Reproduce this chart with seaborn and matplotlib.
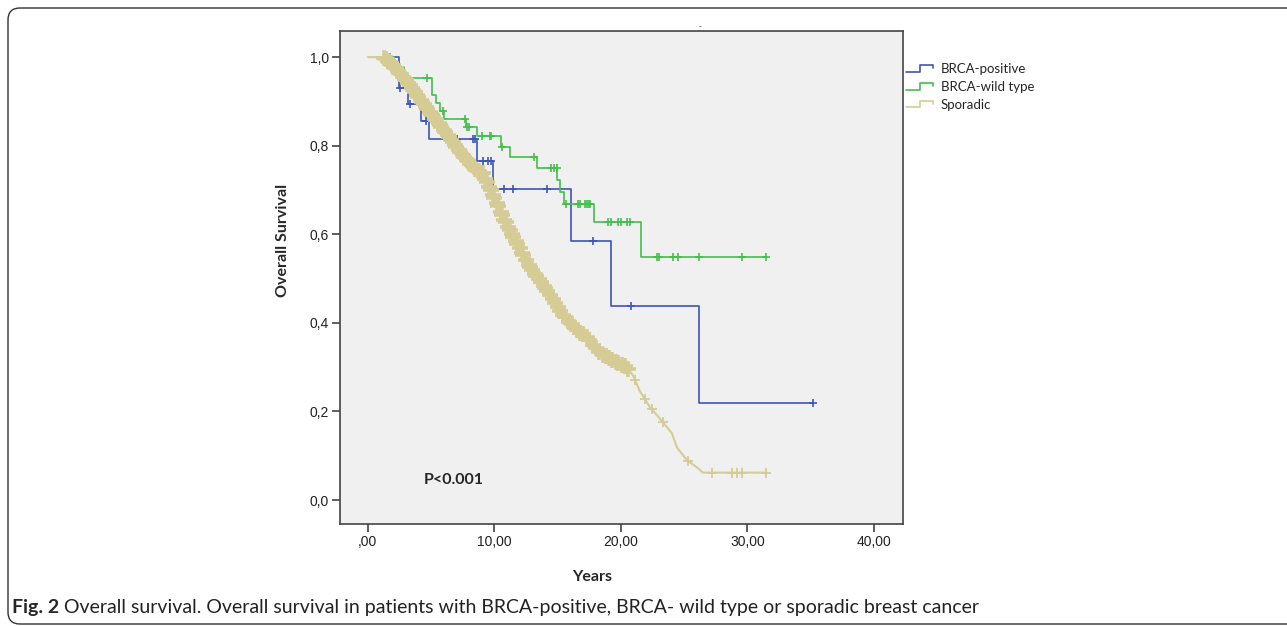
import numpy as np
import pandas as pd
import matplotlib
matplotlib.use("Agg")
import matplotlib.pyplot as plt
import seaborn as sns
from matplotlib.legend_handler import HandlerBase
from matplotlib.lines import Line2D
from matplotlib.patches import FancyBboxPatch
from matplotlib.transforms import IdentityTransform

# ---------------- data ----------------
# BRCA-positive: event times (years) and survival after each step
pos_time = [1.2, 2.45, 3.2, 4.2, 4.8, 8.6, 9.9, 16.05, 19.2, 26.2, 35.2]
pos_surv = [1.0, 0.931, 0.894, 0.856, 0.815, 0.766, 0.702, 0.585, 0.438, 0.22, 0.22]
pos_cens = [2.53, 3.32, 4.58, 7.04, 8.3, 8.46, 9.09, 9.49, 9.72, 10.75, 11.46,
            14.15, 17.79, 20.79, 35.18]

# BRCA-wild type
wt_time = [1.2, 2.06, 2.85, 5.06, 5.38, 5.69, 6.01, 7.75, 8.62, 10.51, 11.23,
           13.36, 14.98, 15.18, 15.49, 17.87, 21.58, 31.5]
wt_surv = [1.0, 0.977, 0.953, 0.914, 0.896, 0.879, 0.860, 0.842, 0.822, 0.798,
           0.775, 0.750, 0.722, 0.695, 0.668, 0.628, 0.549, 0.549]
wt_cens = [1.74, 4.66, 5.93, 7.67, 7.83, 7.98, 9.01, 9.64, 9.72, 10.59, 13.12,
           14.47, 14.70, 14.94, 15.65, 16.60, 16.76, 17.15, 17.31, 17.47, 17.55,
           18.97, 19.21, 19.76, 20.0, 20.47, 20.71, 22.85, 23.0, 24.11, 24.5,
           26.17, 29.57, 31.46]

# Sporadic (many small steps, read as a path)
spor_time = [0.0, 1.19, 1.98, 3.32, 4.66, 5.69, 6.72, 7.67, 8.62, 9.09, 9.64,
             10.20, 10.67, 11.78, 12.81, 14.15, 15.42, 16.52, 17.31, 18.34,
             19.37, 20.47, 20.95, 21.50, 22.29, 23.32, 24.03, 24.43, 25.22,
             26.01, 26.48, 31.54]
spor_surv = [1.0, 1.0, 0.982, 0.937, 0.885, 0.847, 0.808, 0.772, 0.745, 0.738,
             0.704, 0.671, 0.639, 0.580, 0.526, 0.474, 0.418, 0.384, 0.368,
             0.332, 0.316, 0.300, 0.282, 0.246, 0.210, 0.176, 0.151, 0.119,
             0.090, 0.074, 0.062, 0.062]
# densely censored stretch (the marks merge into a band)
spor_cens_dense = [
    1.3, 1.4, 1.6, 1.7, 1.8, 2.0, 2.1, 2.2, 2.4, 2.5, 2.6, 2.8, 2.9, 3.0, 3.2,
    3.3, 3.5, 3.6, 3.7, 3.9, 4.0, 4.2, 4.3, 4.4, 4.6, 4.7, 4.9, 5.0, 5.1, 5.3,
    5.4, 5.6, 5.7, 5.8, 6.0, 6.1, 6.3, 6.4, 6.6, 6.7, 6.9, 7.0, 7.2, 7.3, 7.5,
    7.6, 7.8, 7.9, 8.1, 8.2, 8.4, 8.5, 8.7, 8.8, 9.0, 9.1, 9.3, 9.4, 9.6, 9.7,
    9.9, 10.0, 10.2, 10.3, 10.5, 10.6, 10.8, 10.9, 11.1, 11.2, 11.4, 11.5, 11.7,
    11.8, 12.0, 12.2, 12.3, 12.5, 12.7, 12.8, 13.0, 13.2, 13.3, 13.5, 13.7, 13.9,
    14.0, 14.2, 14.4, 14.6, 14.8, 15.0, 15.2, 15.4, 15.6, 15.9, 16.1, 16.3, 16.5,
    16.8, 17.0, 17.3, 17.5, 17.8, 18.0, 18.3, 18.6, 18.8, 19.1, 19.3, 19.6, 19.8,
    20.1, 20.3, 20.6]
# isolated marks further out
spor_cens_late = [21.1, 21.9, 22.45, 23.3, 25.3, 27.2, 28.8, 29.2, 29.6, 31.5]

x_ticks = [0, 10, 20, 30, 40]
x_labels = [",00", "10,00", "20,00", "30,00", "40,00"]
y_ticks = [0.0, 0.2, 0.4, 0.6, 0.8, 1.0]
y_labels = ["0,0", "0,2", "0,4", "0,6", "0,8", "1,0"]

c_pos = "#3f55b5"
c_wt = "#44bf4c"
c_spor = "#d4cc94"

# ---------------- style ----------------
sns.set_theme(style="white")
plt.rcParams["font.family"] = ["Liberation Sans", "DejaVu Sans"]

fig = plt.figure(figsize=(12.87, 6.26), dpi=100)
W, H = 1287, 626
ax = fig.add_axes([340 / W, 1 - 524 / H, 563 / W, 493 / H])
ax.set_facecolor("#f0f0f0")


def step_value(times, surv, t):
    i = np.searchsorted(times, t, side="right") - 1
    return np.asarray(surv)[np.clip(i, 0, None)]


# survival curves
pos_df = pd.DataFrame({"time": pos_time, "surv": pos_surv})
wt_df = pd.DataFrame({"time": wt_time, "surv": wt_surv})
spor_df = pd.DataFrame({"time": spor_time, "surv": spor_surv})

sns.lineplot(data=pos_df, x="time", y="surv", drawstyle="steps-post",
             color=c_pos, lw=1.2, estimator=None, sort=False, ax=ax, zorder=3)
sns.lineplot(data=wt_df, x="time", y="surv", drawstyle="steps-post",
             color=c_wt, lw=1.2, estimator=None, sort=False, ax=ax, zorder=3)

# censoring marks
sns.scatterplot(x=pos_cens, y=step_value(pos_time, pos_surv, pos_cens),
                marker="+", s=40, linewidth=1.2, color=c_pos, ax=ax, zorder=4)
sns.scatterplot(x=wt_cens, y=step_value(wt_time, wt_surv, wt_cens),
                marker="+", s=40, linewidth=1.2, color=c_wt, ax=ax, zorder=4)

sns.lineplot(data=spor_df, x="time", y="surv", color=c_spor, lw=1.5,
             estimator=None, sort=False, ax=ax, zorder=5)
sns.scatterplot(x=spor_cens_dense,
                y=np.interp(spor_cens_dense, spor_time, spor_surv),
                marker="+", s=120, linewidth=2.6, color=c_spor, ax=ax, zorder=5)
sns.scatterplot(x=spor_cens_late,
                y=np.interp(spor_cens_late, spor_time, spor_surv),
                marker="+", s=50, linewidth=1.3, color=c_spor, ax=ax, zorder=5)

ax.text(4.4, 0.045, "P<0.001", fontsize=11.5, fontweight="bold",
        family=["Lato", "DejaVu Sans"], va="center", ha="left")

# axes
ax.set_xlim(-2.2, 42.3)
ax.set_ylim(-0.054, 1.059)
ax.set_xticks(x_ticks)
ax.set_xticklabels(x_labels)
ax.set_yticks(y_ticks)
ax.set_yticklabels(y_labels)
ax.tick_params(direction="out", length=6, width=1.1, color="#333333",
               labelsize=10, labelcolor="#222222", pad=2,
               bottom=True, left=True)
for sp in ax.spines.values():
    sp.set_color("#444444")
    sp.set_linewidth(1.2)

ax.set_xlabel("Years", fontsize=11.5, fontweight="bold",
              family=["Lato", "DejaVu Sans"])
ax.set_ylabel("Overall Survival", fontsize=11.5, fontweight="bold",
              family=["Lato", "DejaVu Sans"])
ax.xaxis.set_label_coords(0.448, -0.093)
ax.yaxis.set_label_coords(-0.089, 0.576)


# legend with step-shaped handles
class StepHandler(HandlerBase):
    def create_artists(self, legend, orig_handle, xdescent, ydescent,
                       width, height, fontsize, trans):
        lo, hi = height * 0.15 - ydescent, height * 0.85 - ydescent
        xs = [-xdescent, width * 0.45, width * 0.45, width * 0.9, width * 0.9]
        ys = [lo, lo, hi, hi, lo + (hi - lo) * 0.55]
        ln = Line2D(xs, ys, color=orig_handle.get_color(), lw=1.2,
                    transform=trans)
        return [ln]


handles = [Line2D([], [], color=c) for c in (c_pos, c_wt, c_spor)]
fig.legend(handles, ["BRCA-positive", "BRCA-wild type", "Sporadic"],
           handler_map={Line2D: StepHandler()},
           loc="upper left", bbox_to_anchor=(906 / W, 1 - 63 / H),
           frameon=False, handlelength=2.3, handletextpad=0.35,
           labelspacing=0.45, borderpad=0, borderaxespad=0,
           prop={"family": ["Lato", "DejaVu Sans"], "size": 9.5})

fig.text(700 / W, 1 - 27 / H, "-", fontsize=6, ha="center", va="center")

# caption
cap1 = fig.text(12 / W, 1 - 607 / H, "Fig. 2", fontsize=14, fontweight="bold",
                family=["Lato", "DejaVu Sans"], va="center", ha="left")
fig.canvas.draw()
bb = cap1.get_window_extent()
fig.text((bb.x1 + 5) / W, 1 - 607 / H,
         "Overall survival. Overall survival in patients with BRCA-positive, "
         "BRCA- wild type or sporadic breast cancer",
         fontsize=14, family=["Lato", "DejaVu Sans"], va="center", ha="left",
         color="#222222")

# rounded page border
border = FancyBboxPatch((8, 2), 1300, 616, boxstyle="round,pad=0,rounding_size=12",
                        transform=IdentityTransform(), fill=False,
                        edgecolor="#333333", lw=1.0)
fig.patches.append(border)

fig.savefig("out.png", dpi=100)
